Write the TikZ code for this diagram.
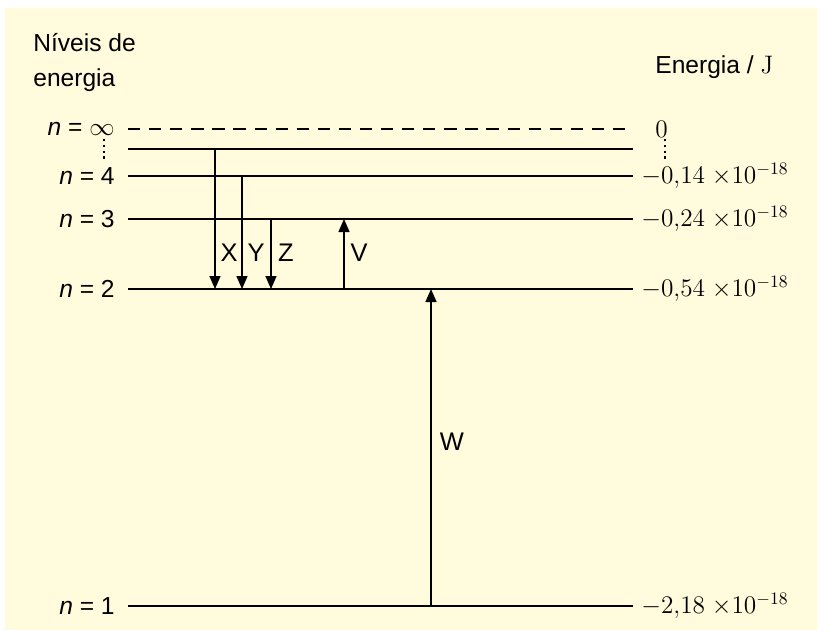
\documentclass[tikz,border=0pt]{standalone}
\usepackage[no-math]{fontspec}
\setmainfont{Liberation Sans}
\usetikzlibrary{arrows.meta,positioning}
\definecolor{cream}{HTML}{FFFBDC}

\begin{document}
\begin{tikzpicture}[
  x=0.02cm,y=-0.02cm,
  level/.style={line width=1.6pt},
  trans/.style={-{Triangle[length=2.6mm,width=2.2mm]},line width=0.8pt},
  nlabel/.style={font=\fontsize{14}{16}\selectfont,inner sep=0pt},
  energy/.style={font=\fontsize{14}{16}\selectfont,anchor=west,inner sep=0pt},
  letter/.style={font=\fontsize{14.5}{16}\selectfont,inner sep=0pt},
  heading/.style={font=\fontsize{14}{20}\selectfont,inner sep=0pt,align=left}
]
\useasboundingbox (0,0) rectangle (817,630);
\fill[cream] (5,8) rectangle (817,630);

% level ends
\coordinate (Linfa) at (128,129); \coordinate (Linfb) at (633,129);
\coordinate (L5a) at (128,149);   \coordinate (L5b) at (633,149);
\coordinate (L4a) at (128,176);   \coordinate (L4b) at (633,176);
\coordinate (L3a) at (128,219);   \coordinate (L3b) at (633,219);
\coordinate (L2a) at (128,289);   \coordinate (L2b) at (633,289);
\coordinate (L1a) at (128,606);   \coordinate (L1b) at (633,606);

\draw[level,dash pattern=on 7pt off 5pt] (Linfa) -- (Linfb);
\draw[level] (L5a) -- (L5b);
\draw[level] (L4a) -- (L4b);
\draw[level] (L3a) -- (L3b);
\draw[level] (L2a) -- (L2b);
\draw[level] (L1a) -- (L1b);

% headings
\node[heading,anchor=north west] (levels) at (33,33) {Níveis de\\energia};
\node[heading,anchor=north west] (eunit) at (655,55) {Energia / $\mathrm{J}$};

% quantum numbers
\node[nlabel,anchor=east] (ninf) at (115,129) {\textit{n} = $\infty$};
\node[nlabel,anchor=east] (n4) at (115,176) {\textit{n} = 4};
\node[nlabel,anchor=east] (n3) at (115,219) {\textit{n} = 3};
\node[nlabel,anchor=east] (n2) at (115,289) {\textit{n} = 2};
\node[nlabel,anchor=east] (n1) at (115,606) {\textit{n} = 1};
\coordinate (dl1) at (104,139); \coordinate (dl2) at (104,162);
\draw[line width=1.3pt,dotted] (dl1) -- (dl2);

% energies
\node[energy] (e0) at (655,129) {$0$};
\node[energy] (e4) at (641,176) {$-0{,}14\ {\times}10^{-18}$};
\node[energy] (e3) at (641,219) {$-0{,}24\ {\times}10^{-18}$};
\node[energy] (e2) at (641,289) {$-0{,}54\ {\times}10^{-18}$};
\node[energy] (e1) at (641,606) {$-2{,}18\ {\times}10^{-18}$};
\coordinate (dr1) at (665,139); \coordinate (dr2) at (665,160);
\draw[line width=1.3pt,dotted] (dr1) -- (dr2);

% transitions
\coordinate (xX) at (215,0); \coordinate (xY) at (242,0);
\coordinate (xZ) at (271,0); \coordinate (xV) at (344,0);
\coordinate (xW) at (431,0);
\draw[trans] (xX |- L5a) -- (xX |- L2a);
\draw[trans] (xY |- L4a) -- (xY |- L2a);
\draw[trans] (xZ |- L3a) -- (xZ |- L2a);
\draw[trans] (xV |- L2a) -- (xV |- L3a);
\draw[trans] (xW |- L1a) -- (xW |- L2a);

\node[letter] (tX) at (229,253) {X};
\node[letter] (tY) at (256,253) {Y};
\node[letter] (tZ) at (286,253) {Z};
\node[letter] (tV) at (359,253) {V};
\node[letter] (tW) at (452,442) {W};
\end{tikzpicture}
\end{document}
